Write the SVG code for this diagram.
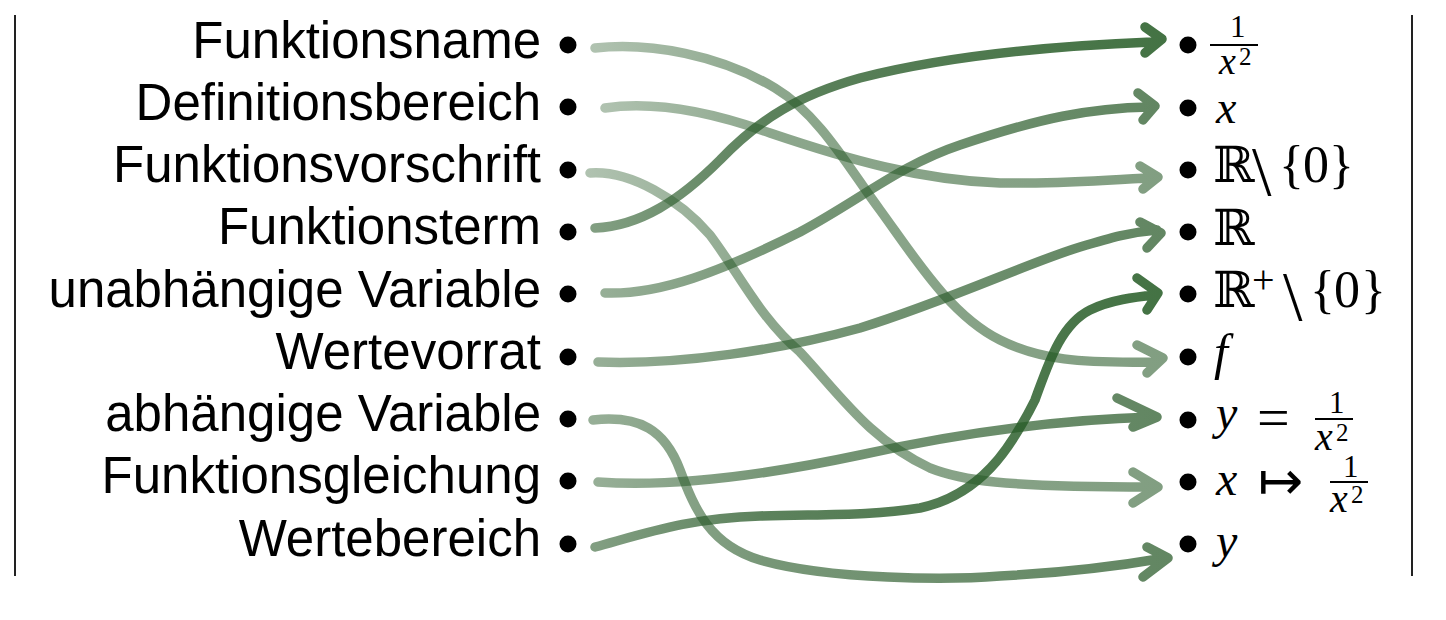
<svg xmlns="http://www.w3.org/2000/svg" width="1446" height="620" viewBox="0 0 1446 620">
<defs>
<style>
.lbl{font-family:"Liberation Sans",Arial,sans-serif;font-size:51px;fill:#000;text-anchor:end}
.dot{fill:#000}
.frame{stroke:#222;stroke-width:2;fill:none}
.math{font-family:"Liberation Serif","Times New Roman",serif;fill:#000}
.mi{font-style:italic}
.bb{font-family:"DejaVu Serif",serif}
.sym{font-family:"DejaVu Sans",sans-serif}
.bar{stroke:#000;stroke-width:1.8}
.c{fill:none;stroke-width:9.5;stroke-linecap:round;stroke-linejoin:round}
.l{stroke:url(#gLight)}
.m{stroke:url(#gMid)}
.d{stroke:url(#gDark)}
</style>
<linearGradient id="gLight" x1="0" y1="0" x2="1" y2="0">
<stop offset="0" stop-color="#2e5e2e" stop-opacity="0.38"/>
<stop offset="0.3" stop-color="#2e5e2e" stop-opacity="0.55"/>
<stop offset="1" stop-color="#2e5e2e" stop-opacity="0.6"/>
</linearGradient>
<linearGradient id="gMid" x1="0" y1="0" x2="1" y2="0">
<stop offset="0" stop-color="#2e5e2e" stop-opacity="0.5"/>
<stop offset="0.3" stop-color="#2e5e2e" stop-opacity="0.65"/>
<stop offset="1" stop-color="#2e5e2e" stop-opacity="0.75"/>
</linearGradient>
<linearGradient id="gDark" x1="0" y1="0" x2="1" y2="0">
<stop offset="0" stop-color="#2e5e2e" stop-opacity="0.6"/>
<stop offset="0.3" stop-color="#2e5e2e" stop-opacity="0.78"/>
<stop offset="1" stop-color="#235a23" stop-opacity="0.85"/>
</linearGradient>
</defs>
<rect width="1446" height="620" fill="#fff"/>
<line class="frame" x1="15" y1="15" x2="15" y2="576"/>
<line class="frame" x1="1412" y1="15" x2="1412" y2="576"/>

<g id="left-funktionsname"><text class="lbl" x="541" y="58">Funktionsname</text><circle class="dot" cx="568" cy="45" r="8.5"/></g>
<g id="left-definitionsbereich"><text class="lbl" x="541" y="120">Definitionsbereich</text><circle class="dot" cx="568" cy="107" r="8.5"/></g>
<g id="left-funktionsvorschrift"><text class="lbl" x="541" y="182">Funktionsvorschrift</text><circle class="dot" cx="568" cy="170" r="8.5"/></g>
<g id="left-funktionsterm"><text class="lbl" x="541" y="244">Funktionsterm</text><circle class="dot" cx="568" cy="232" r="8.5"/></g>
<g id="left-unabhaengige-variable"><text class="lbl" x="541" y="307">unabhängige Variable</text><circle class="dot" cx="568" cy="294" r="8.5"/></g>
<g id="left-wertevorrat"><text class="lbl" x="541" y="369">Wertevorrat</text><circle class="dot" cx="568" cy="357" r="8.5"/></g>
<g id="left-abhaengige-variable"><text class="lbl" x="541" y="431">abhängige Variable</text><circle class="dot" cx="568" cy="419" r="8.5"/></g>
<g id="left-funktionsgleichung"><text class="lbl" x="541" y="493">Funktionsgleichung</text><circle class="dot" cx="568" cy="481" r="8.5"/></g>
<g id="left-wertebereich"><text class="lbl" x="541" y="556">Wertebereich</text><circle class="dot" cx="568" cy="544" r="8.5"/></g>

<g id="right-frac"><circle class="dot" cx="1188" cy="45" r="8.5"/>
<line class="bar" x1="1210" y1="45" x2="1258" y2="45"/>
<text class="math"><tspan x="1230" y="37" font-size="31">1</tspan><tspan class="mi" x="1219" y="74" font-size="38">x</tspan><tspan x="1239" y="65" font-size="25">2</tspan></text></g>
<g id="right-x"><circle class="dot" cx="1188" cy="108" r="8.5"/>
<text class="math mi" x="1216" y="123" font-size="46">x</text></g>
<g id="right-r-minus-0"><circle class="dot" cx="1188" cy="170" r="8.5"/>
<text class="math"><tspan class="bb" x="1213" y="182" font-size="50">ℝ</tspan><tspan x="1252" y="195" font-size="70">\</tspan><tspan x="1279" y="182" font-size="52">{</tspan><tspan x="1303" y="182" font-size="52">0</tspan><tspan x="1329" y="182" font-size="52">}</tspan></text></g>
<g id="right-r"><circle class="dot" cx="1188" cy="232" r="8.5"/>
<text class="math bb" x="1213" y="245" font-size="50">ℝ</text></g>
<g id="right-rplus-minus-0"><circle class="dot" cx="1188" cy="294" r="8.5"/>
<text class="math"><tspan class="bb" x="1213" y="307" font-size="50">ℝ</tspan><tspan x="1252" y="293" font-size="40">+</tspan><tspan x="1283" y="320" font-size="70">\</tspan><tspan x="1310" y="307" font-size="52">{</tspan><tspan x="1334" y="307" font-size="52">0</tspan><tspan x="1361" y="307" font-size="52">}</tspan></text></g>
<g id="right-f"><circle class="dot" cx="1188" cy="357" r="8.5"/>
<text class="math mi" x="1214" y="369" font-size="50">f</text></g>
<g id="right-y-eq"><circle class="dot" cx="1188" cy="420" r="8.5"/>
<line class="bar" x1="1315" y1="419" x2="1353" y2="419"/>
<text class="math"><tspan class="mi" x="1216" y="429" font-size="48">y</tspan><tspan x="1257" y="437" font-size="58">=</tspan><tspan x="1329" y="413" font-size="31">1</tspan><tspan class="mi" x="1315" y="450" font-size="40">x</tspan><tspan x="1336" y="441" font-size="25">2</tspan></text></g>
<g id="right-x-mapsto"><circle class="dot" cx="1188" cy="482" r="8.5"/>
<line class="bar" x1="1330" y1="482" x2="1368" y2="482"/>
<text class="math"><tspan class="mi" x="1216" y="495" font-size="48">x</tspan><tspan class="sym" x="1258" y="499" font-size="54">↦</tspan><tspan x="1343" y="477" font-size="31">1</tspan><tspan class="mi" x="1330" y="512" font-size="40">x</tspan><tspan x="1351" y="503" font-size="25">2</tspan></text></g>
<g id="right-y"><circle class="dot" cx="1188" cy="544" r="8.5"/>
<text class="math mi" x="1216" y="557" font-size="48">y</text></g>

<g id="connectors">
<path class="c l" d="M595,48 C650,42 720,55 775,88 C820,115 850,170 880,210 C915,258 950,315 1000,340 C1040,360 1080,363 1152,362 M1137,345 L1163,358 L1147,373"/>
<path class="c l" d="M605,108 C660,100 720,115 770,133 C850,160 920,180 1000,183 C1060,184 1100,180 1152,178 M1140,166 L1158,177 L1143,189"/>
<path class="c l" d="M590,173 C630,170 680,200 710,235 C740,275 760,318 800,352 C840,395 870,440 930,468 C960,480 1000,487 1150,487 M1133,472 L1158,487 L1133,503"/>
<path class="c d" d="M595,228 C640,226 680,200 720,160 C760,118 800,95 860,78 C950,55 1050,46 1152,42 M1145,27 L1162,39 L1145,53"/>
<path class="c m" d="M605,293 C660,295 720,272 800,232 C860,200 900,165 960,145 C1040,118 1090,108 1150,107 M1138,93 L1155,106 L1143,120"/>
<path class="c m" d="M598,362 C680,365 780,350 860,328 C950,300 1030,262 1080,247 C1110,238 1130,232 1157,230 M1140,222 L1161,233 L1147,248"/>
<path class="c m" d="M593,420 C640,415 665,430 680,470 C695,510 710,545 760,560 C830,580 950,580 1000,576 C1080,572 1130,564 1165,558 M1147,547 L1168,558 L1143,577"/>
<path class="c m" d="M598,482 C680,488 780,472 860,455 C950,435 1050,420 1152,417 M1117,398 L1157,417 L1133,427"/>
<path class="c d" d="M595,547 C650,532 690,518 760,516 C820,514 870,516 920,508 C980,495 1010,450 1035,400 C1048,365 1060,325 1090,310 C1110,300 1135,297 1155,295 M1137,278 L1158,293 L1147,310"/>
</g>
</svg>
